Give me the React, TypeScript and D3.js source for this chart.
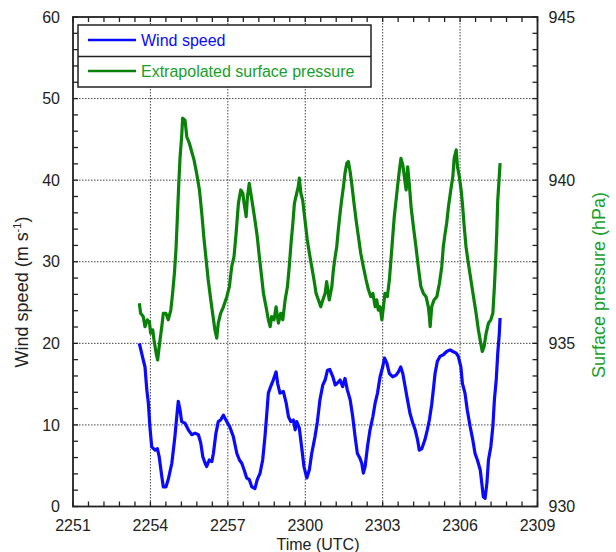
import React from "react";
import * as d3 from "d3";

// time in minutes after 22:00 UTC
const windTime = [
  53.57, 53.72, 53.79, 53.86, 53.92, 53.98, 54.05, 54.18, 54.27, 54.34, 54.44, 54.5, 54.6, 54.69, 54.83,
  54.95, 55.02, 55.08, 55.15, 55.21, 55.34, 55.47, 55.6, 55.73, 55.86, 55.95, 56.03, 56.12, 56.18, 56.28,
  56.38, 56.44, 56.54, 56.63, 56.72, 56.83, 56.96, 57.07, 57.21, 57.35, 57.45, 57.54, 57.63, 57.73, 57.83,
  57.93, 58.05, 58.14, 58.25, 58.35, 58.44, 58.51, 58.57, 58.66, 58.76, 58.87, 58.93, 59.02, 59.15, 59.26,
  59.35, 59.44, 59.54, 59.61, 59.67, 59.77, 59.86, 59.95, 60.06, 60.16, 60.25, 60.38, 60.47, 60.57, 60.68,
  60.77, 60.86, 60.95, 61.07, 61.16, 61.24, 61.35, 61.45, 61.54, 61.63, 61.74, 61.84, 61.93, 62.02, 62.12,
  62.19, 62.25, 62.32, 62.41, 62.51, 62.62, 62.71, 62.8, 62.9, 63.0, 63.07, 63.16, 63.26, 63.39, 63.52,
  63.61, 63.7, 63.78, 63.87, 63.96, 64.06, 64.17, 64.26, 64.35, 64.42, 64.52, 64.64, 64.73, 64.81, 64.9,
  64.97, 65.03, 65.12, 65.22, 65.35, 65.48, 65.61, 65.72, 65.85, 65.93, 66.03, 66.09, 66.19, 66.28, 66.39,
  66.49, 66.58, 66.67, 66.78, 66.84, 66.9, 66.97, 67.04, 67.1, 67.19, 67.27, 67.33, 67.4, 67.46, 67.52,
  67.55,
];
const windSpeed = [
  20.0, 18.0, 17.1, 14.3, 12.7, 9.8, 7.3, 6.9, 7.1, 6.1, 3.7, 2.4, 2.4, 3.3, 5.3,
  8.6, 11.0, 12.9, 11.8, 10.4, 10.2, 9.4, 8.8, 9.0, 8.8, 7.8, 6.1, 5.3, 4.9, 5.7,
  5.5, 6.5, 9.0, 10.4, 10.6, 11.2, 10.4, 9.8, 8.6, 6.5, 5.7, 5.3, 4.5, 3.5, 3.3,
  2.4, 2.2, 3.3, 4.1, 5.7, 8.6, 11.4, 13.9, 14.7, 15.5, 16.5, 15.1, 13.9, 14.1, 12.7,
  11.0, 10.4, 10.6, 9.4, 10.4, 9.6, 7.3, 4.9, 3.5, 4.5, 6.5, 8.6, 10.4, 13.1, 14.9,
  15.5, 16.7, 16.8, 15.9, 14.9, 15.1, 15.5, 14.7, 15.7, 14.3, 13.1, 11.0, 8.6, 6.5, 5.9,
  5.3, 4.1, 4.9, 7.3, 9.4, 11.0, 12.7, 13.9, 15.9, 17.1, 18.2, 17.6, 16.3, 15.9, 16.1,
  16.5, 17.1, 16.3, 14.7, 13.1, 11.4, 10.2, 9.4, 8.2, 6.9, 7.1, 8.2, 9.4, 10.6, 12.5,
  14.5, 16.3, 17.8, 18.4, 18.6, 19.0, 19.2, 19.0, 18.8, 18.4, 17.1, 15.1, 13.9, 11.8, 9.8,
  8.2, 6.5, 5.7, 4.5, 2.9, 1.2, 1.0, 2.9, 5.7, 7.3, 9.8, 13.1, 15.5, 18.8, 21.2,
  23.1,
];

const pressTime = [
  53.57, 53.62, 53.72, 53.79, 53.88, 53.96, 54.01, 54.09, 54.14, 54.22, 54.28, 54.34, 54.44, 54.5, 54.6,
  54.69, 54.79, 54.86, 54.93, 54.99, 55.04, 55.1, 55.15, 55.21, 55.25, 55.34, 55.41, 55.51, 55.6, 55.69,
  55.79, 55.9, 55.99, 56.08, 56.16, 56.24, 56.34, 56.41, 56.5, 56.57, 56.63, 56.72, 56.83, 56.96, 57.06,
  57.15, 57.24, 57.32, 57.41, 57.5, 57.58, 57.63, 57.71, 57.76, 57.83, 57.89, 57.97, 58.05, 58.14, 58.22,
  58.31, 58.38, 58.48, 58.57, 58.64, 58.7, 58.79, 58.87, 58.96, 59.05, 59.13, 59.22, 59.31, 59.38, 59.45,
  59.52, 59.58, 59.67, 59.73, 59.77, 59.83, 59.9, 59.99, 60.08, 60.16, 60.25, 60.34, 60.42, 60.51, 60.6,
  60.68, 60.77, 60.83, 60.93, 61.03, 61.09, 61.16, 61.22, 61.28, 61.35, 61.41, 61.48, 61.54, 61.61, 61.67,
  61.74, 61.8, 61.89, 61.97, 62.06, 62.15, 62.25, 62.36, 62.45, 62.54, 62.62, 62.71, 62.77, 62.83, 62.9,
  62.97, 63.03, 63.09, 63.18, 63.26, 63.33, 63.39, 63.45, 63.52, 63.59, 63.65, 63.71, 63.78, 63.84, 63.91,
  63.97, 64.04, 64.1, 64.19, 64.29, 64.38, 64.48, 64.58, 64.68, 64.77, 64.81, 64.84, 64.9, 64.99, 65.1,
  65.2, 65.29, 65.35, 65.42, 65.48, 65.55, 65.64, 65.72, 65.77, 65.85, 65.9, 65.97, 66.04, 66.09, 66.16,
  66.23, 66.32, 66.42, 66.52, 66.62, 66.71, 66.8, 66.86, 66.93, 67.01, 67.1, 67.19, 67.27, 67.33, 67.38,
  67.42, 67.46, 67.51, 67.55,
];
const pressure = [
  936.23, 935.92, 935.82, 935.51, 935.72, 935.66, 935.31, 935.41, 935.1, 934.7, 934.49, 934.9, 935.51, 935.92, 935.92,
  935.72, 936.02, 936.53, 937.15, 937.86, 938.78, 939.9, 940.72, 941.33, 941.9, 941.84, 941.33, 941.13, 940.87, 940.62,
  940.21, 939.7, 938.99, 938.17, 937.56, 936.94, 936.33, 935.92, 935.41, 935.16, 935.62, 935.92, 936.12, 936.43, 936.74,
  937.35, 937.66, 938.37, 939.29, 939.7, 939.6, 939.29, 938.88, 939.49, 939.9, 939.6, 939.19, 938.78, 938.27, 937.66,
  937.04, 936.53, 936.12, 935.72, 935.51, 935.82, 935.72, 936.12, 935.62, 935.92, 935.72, 936.33, 936.74, 937.35, 938.07,
  938.68, 939.29, 939.6, 939.8, 940.06, 939.6, 939.39, 938.78, 938.17, 937.76, 937.35, 936.94, 936.53, 936.33, 936.12,
  936.33, 936.53, 936.89, 936.33, 936.74, 937.25, 937.66, 937.96, 938.47, 938.99, 939.39, 939.8, 940.21, 940.52, 940.57,
  940.26, 939.9, 939.29, 938.78, 938.27, 937.76, 937.35, 936.94, 936.64, 936.43, 936.53, 936.12, 936.33, 936.02, 936.12,
  935.72, 936.12, 936.53, 936.43, 936.94, 937.66, 938.27, 938.88, 939.39, 939.9, 940.31, 940.67, 940.47, 940.11, 939.7,
  940.41, 939.8, 939.19, 938.58, 937.96, 937.35, 936.74, 936.53, 936.43, 936.12, 935.82, 935.51, 936.12, 936.33, 936.43,
  936.84, 937.35, 937.96, 938.37, 938.68, 939.19, 939.7, 940.11, 940.67, 940.93, 940.41, 940.11, 939.7, 939.29, 938.58,
  937.96, 937.45, 936.94, 936.43, 935.92, 935.41, 935.0, 934.75, 934.9, 935.31, 935.62, 935.72, 935.92, 936.74, 937.56,
  938.37, 939.39, 940.01, 940.52,
];

const timeTicks = [51, 54, 57, 60, 63, 66, 69];
const windTicks = [0, 10, 20, 30, 40, 50, 60];
const pressureTicks = [930, 935, 940, 945];

const W = 616;
const H = 552;
const left = 73;
const right = 537.5;
const top = 17;
const bottom = 506.5;

const BLUE = "#0a0aff";
const GREEN = "#0a820a";
const GREEN_TEXT = "#16a02a";
const FONT = "'Liberation Sans', Arial, Helvetica, sans-serif";

const fmtTime = (m: number) => {
  const h = 22 + Math.floor(m / 60);
  const mm = m % 60;
  return `${h}${String(mm).padStart(2, "0")}`;
};

const App = () => {
  const x = d3.scaleLinear().domain([51, 69]).range([left, right]);
  const yW = d3.scaleLinear().domain([0, 60]).range([bottom, top]);
  const yP = d3.scaleLinear().domain([930, 945]).range([bottom, top]);

  const windLine = d3
    .line<number>()
    .x((d, i) => x(windTime[i]))
    .y(d => yW(d));
  const pressLine = d3
    .line<number>()
    .x((d, i) => x(pressTime[i]))
    .y(d => yP(d));

  const xMinor = d3.range(51, 69.001, 0.6);
  const yMinor = d3.range(0, 60.001, 2);
  const pMinor = d3.range(930, 945.001, 0.5);

  return (
    <svg width={W} height={H} style={{ position: "absolute", left: 0, top: 0, background: "#fff" }} fontFamily={FONT}>
      {/* grid */}
      <g stroke="#444" strokeWidth={1} strokeDasharray="1.5,1.5">
        {timeTicks.slice(1, -1).map(t => (
          <line key={"gx" + t} x1={x(t)} x2={x(t)} y1={top} y2={bottom} />
        ))}
        {windTicks.slice(1, -1).map(v => (
          <line key={"gy" + v} x1={left} x2={right} y1={yW(v)} y2={yW(v)} />
        ))}
      </g>

      {/* ticks */}
      <g stroke="#222" strokeWidth={1.3}>
        {xMinor.map((t, i) => (
          <g key={"tx" + i}>
            <line x1={x(t)} x2={x(t)} y1={bottom} y2={bottom - 5} />
            <line x1={x(t)} x2={x(t)} y1={top} y2={top + 5} />
          </g>
        ))}
        {yMinor.map((v, i) => (
          <line key={"ty" + i} x1={left} x2={left + 5} y1={yW(v)} y2={yW(v)} />
        ))}
        {pMinor.map((v, i) => (
          <line key={"tp" + i} x1={right} x2={right - 5} y1={yP(v)} y2={yP(v)} />
        ))}
      </g>

      {/* series */}
      <path d={pressLine(pressure) ?? ""} fill="none" stroke={GREEN} strokeWidth={3.2} strokeLinejoin="round" />
      <path d={windLine(windSpeed) ?? ""} fill="none" stroke={BLUE} strokeWidth={3.2} strokeLinejoin="round" />

      {/* frame */}
      <rect x={left} y={top} width={right - left} height={bottom - top} fill="none" stroke="#222" strokeWidth={1.8} />

      {/* tick labels */}
      <g fontSize={16} fill="#222">
        {windTicks.map(v => (
          <text key={"lw" + v} x={left - 13} y={yW(v)} dy="0.35em" textAnchor="end">
            {v}
          </text>
        ))}
        {pressureTicks.map(v => (
          <text key={"lp" + v} x={right + 11} y={yP(v)} dy="0.35em" textAnchor="start">
            {v}
          </text>
        ))}
        {timeTicks.map(t => (
          <text key={"lt" + t} x={x(t)} y={bottom + 24.5} textAnchor="middle">
            {fmtTime(t)}
          </text>
        ))}
      </g>

      {/* axis titles */}
      <text x={318} y={549.5} fontSize={16} textAnchor="middle" fill="#222">
        Time (UTC)
      </text>
      <text transform="translate(28,292) rotate(-90)" fontSize={18} textAnchor="middle" fill="#222">
        Wind speed (m s<tspan fontSize={11} dy={-7}>-1</tspan>
        <tspan dy={7}>)</tspan>
      </text>
      <text transform="translate(605,285) rotate(-90)" fontSize={18} textAnchor="middle" fill={GREEN_TEXT}>
        Surface pressure (hPa)
      </text>

      {/* legend */}
      <g>
        <rect x={78} y={25} width={293} height={62} fill="#fff" stroke="#222" strokeWidth={1.5} />
        <line x1={78} x2={371} y1={56.5} y2={56.5} stroke="#222" strokeWidth={1.5} />
        <line x1={88} x2={136} y1={40} y2={40} stroke={BLUE} strokeWidth={2.5} />
        <text x={141} y={40} dy="0.35em" fontSize={16} fill={BLUE}>
          Wind speed
        </text>
        <line x1={88} x2={136} y1={71} y2={71} stroke={GREEN} strokeWidth={2.5} />
        <text x={141} y={71} dy="0.35em" fontSize={16} fill={GREEN_TEXT}>
          Extrapolated surface pressure
        </text>
      </g>
    </svg>
  );
};

export default App;
